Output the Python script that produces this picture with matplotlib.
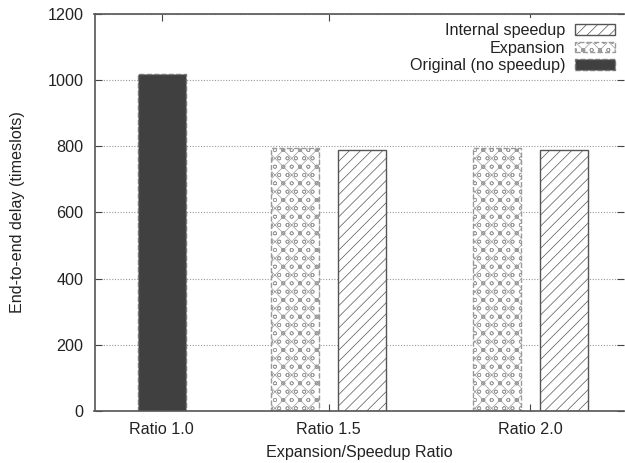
import numpy as np
import matplotlib.pyplot as plt
from matplotlib.patches import Patch

plt.rcParams['font.family'] = ['Liberation Sans', 'DejaVu Sans']
plt.rcParams['hatch.linewidth'] = 0.5
plt.rcParams['text.color'] = '#222222'
plt.rcParams['axes.labelcolor'] = '#222222'

# Data
categories = ["Ratio 1.0", "Ratio 1.5", "Ratio 2.0"]
original = [1020]          # only at ratio 1.0
expansion = [794, 794]     # ratio 1.5, 2.0
internal = [790, 790]      # ratio 1.5, 2.0

# layout (gnuplot-ish uneven cluster spacing)
xpos = np.array([161.7, 328.5, 530.0])
w = 48
off = 33.5
fs = 11.6

fig = plt.figure(figsize=(6.25, 4.63), dpi=100)
ax = fig.add_axes([0.1512, 0.1130, 0.8472, 0.8561])

ax.set_axisbelow(True)
ax.yaxis.grid(True, linestyle=(0, (1, 1.5)), color="#999999", linewidth=0.8)

ax.bar(xpos[:1], original, width=w, color="#404040", edgecolor="#777777",
       linestyle="--", linewidth=1.0, zorder=2)
ax.bar(xpos[1:] - off, expansion, width=w, color="white", edgecolor="#9a9a9a",
       hatch="xxoo", linestyle="--", linewidth=1.0, zorder=2)
ax.bar(xpos[1:] + off, internal, width=w, color="white", edgecolor="#555555",
       hatch="///", linewidth=1.0, zorder=2)

ax.set_xlim(94.5, 624)
ax.set_ylim(0, 1200)
ax.set_yticks(np.arange(0, 1201, 200))
ax.set_xticks(xpos)
ax.set_xticklabels(categories)

for s in ["left", "top", "bottom"]:
    ax.spines[s].set_color("#555555")
    ax.spines[s].set_linewidth(1.2)
ax.spines["right"].set_visible(False)
ax.tick_params(direction="in", length=5, top=True, right=True, color="#444444",
               labelcolor="#222222", labelsize=fs, pad=8)

ax.set_xlabel("Expansion/Speedup Ratio", fontsize=fs, va="center")
ax.set_ylabel("End-to-end delay (timeslots)", fontsize=fs, va="center")
ax.xaxis.set_label_coords(0.5, -0.106)
ax.yaxis.set_label_coords(-0.146, 0.5)

handles = [
    Patch(facecolor="white", edgecolor="#555555", hatch="///", label="Internal speedup"),
    Patch(facecolor="white", edgecolor="#9a9a9a", hatch="xxoo", linestyle="--", label="Expansion"),
    Patch(facecolor="#404040", edgecolor="#777777", linestyle="--", label="Original (no speedup)"),
]
leg = ax.legend(handles=handles, loc="upper right", markerfirst=False, fontsize=fs,
                handlelength=2.5, handleheight=0.65, labelspacing=0.15,
                borderaxespad=0.25, borderpad=0.3, handletextpad=0.6,
                frameon=True, fancybox=False, framealpha=1.0, edgecolor="white")
leg.get_frame().set_linewidth(0)

fig.savefig("out.png", dpi=100)
